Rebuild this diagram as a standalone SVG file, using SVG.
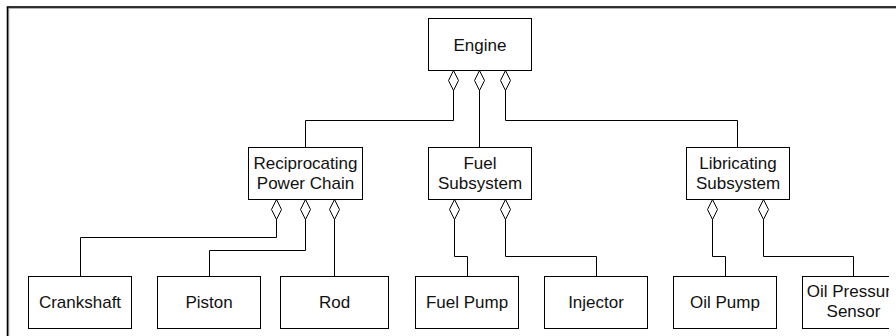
<svg xmlns="http://www.w3.org/2000/svg" width="896" height="336" viewBox="0 0 896 336">
<style>
.box{fill:#fff;stroke:#000;stroke-width:1}
.lbl{font-family:"Liberation Sans",Arial,sans-serif;font-size:17px;fill:#111;text-anchor:middle}
.conn{fill:none;stroke:#000;stroke-width:1}
</style>
<defs>
<marker id="agg" markerUnits="userSpaceOnUse" markerWidth="22" markerHeight="12" refX="0" refY="6" orient="auto" viewBox="-1 0 22 12">
<path d="M0,6 L10,1 L20,6 L10,11 Z" fill="#fff" stroke="#000" stroke-width="1"/>
</marker>
<clipPath id="page"><rect x="0" y="0" width="889" height="336"/></clipPath>
</defs>
<rect x="0" y="0" width="896" height="336" fill="#fff"/>
<g id="frame">
<rect x="8.75" y="8.25" width="900" height="340" fill="none" stroke="#999" stroke-width="1"/>
<rect x="7.5" y="7" width="900" height="340" fill="none" stroke="#000" stroke-width="1.6"/>
</g>
<g id="connectors">
<path class="conn" marker-start="url(#agg)" d="M453.5,70.5 V120.5 H305.5 V147.5"/>
<path class="conn" marker-start="url(#agg)" d="M479.5,70.5 V147.5"/>
<path class="conn" marker-start="url(#agg)" d="M505.5,70.5 V120.5 H737.5 V147.5"/>
<path class="conn" marker-start="url(#agg)" d="M276.5,199.5 V237.5 H80.5 V276.5"/>
<path class="conn" marker-start="url(#agg)" d="M305.5,199.5 V250.5 H209.5 V276.5"/>
<path class="conn" marker-start="url(#agg)" d="M334.5,199.5 V276.5"/>
<path class="conn" marker-start="url(#agg)" d="M454.5,199.5 V256.5 H467.5 V276.5"/>
<path class="conn" marker-start="url(#agg)" d="M505.5,199.5 V256.5 H596.5 V276.5"/>
<path class="conn" marker-start="url(#agg)" d="M712.5,199.5 V256.5 H725.5 V276.5"/>
<path class="conn" marker-start="url(#agg)" d="M763.5,199.5 V256.5 H853.5 V276.5"/>
</g>
<g id="engine"><rect class="box" x="428.5" y="18.5" width="103" height="52"/><text class="lbl" x="480" y="50.5">Engine</text></g>
<g id="reciprocating"><rect class="box" x="248.5" y="147.5" width="114" height="52"/><text class="lbl" x="305.5" y="168.5">Reciprocating</text><text class="lbl" x="305.5" y="188.5">Power Chain</text></g>
<g id="fuel-subsystem"><rect class="box" x="428.5" y="147.5" width="103" height="52"/><text class="lbl" x="480" y="168.5">Fuel</text><text class="lbl" x="480" y="188.5">Subsystem</text></g>
<g id="lubricating-subsystem"><rect class="box" x="686.5" y="147.5" width="103" height="52"/><text class="lbl" x="738" y="168.5">Libricating</text><text class="lbl" x="738" y="188.5">Subsystem</text></g>
<g id="crankshaft"><rect class="box" x="28.5" y="276.5" width="103" height="52"/><text class="lbl" x="80" y="308">Crankshaft</text></g>
<g id="piston"><rect class="box" x="157.5" y="276.5" width="103" height="52"/><text class="lbl" x="209" y="308">Piston</text></g>
<g id="rod"><rect class="box" x="280.5" y="276.5" width="108" height="52"/><text class="lbl" x="334.5" y="308">Rod</text></g>
<g id="fuel-pump"><rect class="box" x="415.5" y="276.5" width="103" height="52"/><text class="lbl" x="467" y="308">Fuel Pump</text></g>
<g id="injector"><rect class="box" x="544.5" y="276.5" width="103" height="52"/><text class="lbl" x="596" y="308">Injector</text></g>
<g id="oil-pump"><rect class="box" x="673.5" y="276.5" width="103" height="52"/><text class="lbl" x="725" y="308">Oil Pump</text></g>
<g id="oil-pressure-sensor" clip-path="url(#page)"><rect class="box" x="802.5" y="276.5" width="102" height="52"/><text class="lbl" x="853.5" y="297">Oil Pressure</text><text class="lbl" x="853.5" y="317">Sensor</text></g>
</svg>
